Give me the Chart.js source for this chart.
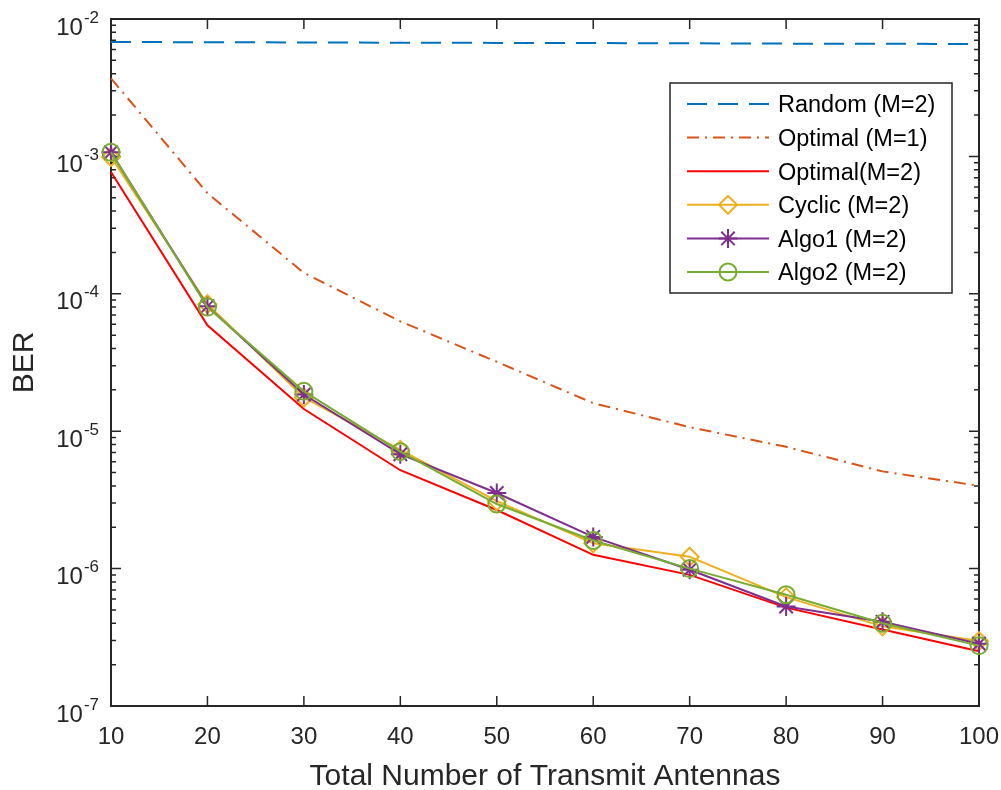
<!DOCTYPE html>
<html><head><meta charset="utf-8">
<script src="https://cdn.jsdelivr.net/npm/chart.js@4.4.0/dist/chart.umd.min.js"></script>
<style>html,body{margin:0;padding:0;background:#fff;}canvas{display:block}</style>
</head><body>
<canvas id="c" width="1001" height="790"></canvas>
<script>
// ---- data ----
const antennas = [10, 20, 30, 40, 50, 60, 70, 80, 90, 100];
const randomM2   = [6.8e-3, 6.78e-3, 6.75e-3, 6.72e-3, 6.7e-3, 6.68e-3, 6.65e-3, 6.62e-3, 6.6e-3, 6.58e-3];
const optimalM1  = [3.7e-3, 5.4e-4, 1.42e-4, 6.3e-5, 3.2e-5, 1.6e-5, 1.07e-5, 7.7e-6, 5.1e-6, 4.0e-6];
const optimalM2  = [7.7e-4, 5.9e-5, 1.45e-5, 5.2e-6, 2.67e-6, 1.26e-6, 9.0e-7, 5.2e-7, 3.6e-7, 2.5e-7];
const cyclicM2   = [9.9e-4, 8.4e-5, 1.76e-5, 7.3e-6, 3.1e-6, 1.53e-6, 1.22e-6, 6.2e-7, 3.8e-7, 2.97e-7];
const algo1M2    = [1.07e-3, 8.1e-5, 1.85e-5, 6.8e-6, 3.55e-6, 1.7e-6, 9.8e-7, 5.3e-7, 4.1e-7, 2.84e-7];
const algo2M2    = [1.07e-3, 8.0e-5, 1.95e-5, 7.1e-6, 2.95e-6, 1.6e-6, 1.0e-6, 6.45e-7, 4.0e-7, 2.75e-7];
const seriesNames = ['Random (M=2)', 'Optimal (M=1)', 'Optimal(M=2)', 'Cyclic (M=2)', 'Algo1 (M=2)', 'Algo2 (M=2)'];
const xTickValues = [10, 20, 30, 40, 50, 60, 70, 80, 90, 100];
const yTickExponents = [-2, -3, -4, -5, -6, -7];
const xTitle = 'Total Number of Transmit Antennas';
const yTitle = 'BER';

// ---- styles ----
const FONT = '"Liberation Sans", Arial, sans-serif';
const AX = '#262626';
const styles = [
  {color: '#0072BD', dash: [20, 11], marker: null},
  {color: '#D95319', dash: [12, 6, 2, 6], marker: null},
  {color: '#FF0000', dash: [], marker: null},
  {color: '#EDB120', dash: [], marker: 'rectRot', r: 9},
  {color: '#7E2F8E', dash: [], marker: 'star', r: 9.5},
  {color: '#77AC30', dash: [], marker: 'circle', r: 8.5}
];
const seriesData = [randomM2, optimalM1, optimalM2, cyclicM2, algo1M2, algo2M2];

const datasets = seriesData.map((d, i) => ({
  label: seriesNames[i],
  data: antennas.map((x, k) => ({x: x, y: d[k]})),
  borderColor: styles[i].color,
  borderWidth: 2,
  borderDash: styles[i].dash,
  pointStyle: styles[i].marker || 'circle',
  pointRadius: styles[i].marker ? styles[i].r : 0,
  pointBorderColor: styles[i].color,
  pointBackgroundColor: 'rgba(0,0,0,0)',
  pointBorderWidth: 2,
  tension: 0,
  fill: false,
  clip: false,
  order: 6 - i
}));

function drawMarker(ctx, type, x, y, r) {
  ctx.beginPath();
  if (type === 'rectRot') {
    ctx.moveTo(x - r, y); ctx.lineTo(x, y - r); ctx.lineTo(x + r, y); ctx.lineTo(x, y + r); ctx.closePath();
  } else if (type === 'circle') {
    ctx.arc(x, y, r, 0, Math.PI * 2);
  } else if (type === 'star') {
    const d = r * Math.SQRT1_2;
    ctx.moveTo(x - r, y); ctx.lineTo(x + r, y);
    ctx.moveTo(x, y - r); ctx.lineTo(x, y + r);
    ctx.moveTo(x - d, y - d); ctx.lineTo(x + d, y + d);
    ctx.moveTo(x - d, y + d); ctx.lineTo(x + d, y - d);
  }
  ctx.stroke();
}

const axesPlugin = {
  id: 'matlabAxes',
  beforeDatasetsDraw(chart) {
    const ctx = chart.ctx, a = chart.chartArea;
    const xs = chart.scales.x, ys = chart.scales.y;
    ctx.save();
    ctx.fillStyle = '#fff';
    ctx.fillRect(a.left, a.top, a.right - a.left, a.bottom - a.top);
    ctx.strokeStyle = AX;
    ctx.lineWidth = 1.5;
    ctx.setLineDash([]);
    ctx.beginPath();
    xTickValues.forEach(v => {
      const px = xs.getPixelForValue(v);
      ctx.moveTo(px, a.bottom); ctx.lineTo(px, a.bottom - 10);
      ctx.moveTo(px, a.top); ctx.lineTo(px, a.top + 10);
    });
    yTickExponents.forEach(e => {
      const py = ys.getPixelForValue(Math.pow(10, e));
      ctx.moveTo(a.left, py); ctx.lineTo(a.left + 10, py);
      ctx.moveTo(a.right, py); ctx.lineTo(a.right - 10, py);
    });
    for (let e = -7; e < -2; e++) {
      for (let m = 2; m <= 9; m++) {
        const py = ys.getPixelForValue(m * Math.pow(10, e));
        ctx.moveTo(a.left, py); ctx.lineTo(a.left + 5, py);
        ctx.moveTo(a.right, py); ctx.lineTo(a.right - 5, py);
      }
    }
    ctx.stroke();
    ctx.lineWidth = 2;
    ctx.strokeRect(a.left, a.top, a.right - a.left, a.bottom - a.top);
    ctx.restore();
  },
  afterDraw(chart) {
    const ctx = chart.ctx, a = chart.chartArea;
    const xs = chart.scales.x, ys = chart.scales.y;
    ctx.save();
    ctx.fillStyle = AX;
    // x tick labels
    ctx.font = '24px ' + FONT;
    ctx.textAlign = 'center';
    ctx.textBaseline = 'alphabetic';
    xTickValues.forEach(v => {
      ctx.fillText(String(v), xs.getPixelForValue(v), a.bottom + 38);
    });
    // y tick labels
    yTickExponents.forEach(e => {
      const py = ys.getPixelForValue(Math.pow(10, e));
      const expText = String(e);
      ctx.font = '17px ' + FONT;
      const we = ctx.measureText(expText).width;
      ctx.textAlign = 'left';
      const expX = a.left - 12 - we;
      ctx.fillText(expText, expX, py + 3.5);
      ctx.font = '24px ' + FONT;
      ctx.textAlign = 'right';
      ctx.fillText('10', expX - 1, py + 15.5);
    });
    // axis titles
    ctx.font = '30px ' + FONT;
    ctx.textAlign = 'center';
    ctx.fillText(xTitle, (a.left + a.right) / 2, 785);
    ctx.save();
    ctx.translate(33, (a.top + a.bottom) / 2);
    ctx.rotate(-Math.PI / 2);
    ctx.fillText(yTitle, 0, 0);
    ctx.restore();
    // legend
    const L = 670, T = 83, R = 952, B = 293;
    ctx.fillStyle = '#fff';
    ctx.fillRect(L, T, R - L, B - T);
    ctx.strokeStyle = AX;
    ctx.lineWidth = 1.5;
    ctx.setLineDash([]);
    ctx.strokeRect(L, T, R - L, B - T);
    ctx.font = '23.5px ' + FONT;
    ctx.textAlign = 'left';
    ctx.textBaseline = 'middle';
    seriesNames.forEach((name, i) => {
      const y = 104 + i * 33.6;
      const s = styles[i];
      ctx.strokeStyle = s.color;
      ctx.lineWidth = 2;
      ctx.setLineDash(s.dash);
      ctx.beginPath();
      ctx.moveTo(687, y); ctx.lineTo(769, y);
      ctx.stroke();
      ctx.setLineDash([]);
      if (s.marker) drawMarker(ctx, s.marker, 728, y, s.r);
      ctx.fillStyle = '#000';
      ctx.fillText(name, 778, y + 2);
    });
    ctx.restore();
  }
};

new Chart(document.getElementById('c'), {
  type: 'line',
  data: {datasets: datasets},
  options: {
    responsive: false,
    animation: false,
    devicePixelRatio: 1,
    layout: {padding: {left: 111, right: 22, top: 19, bottom: 84}},
    plugins: {legend: {display: false}, tooltip: {enabled: false}},
    scales: {
      x: {type: 'linear', min: 10, max: 100, display: false},
      y: {type: 'logarithmic', min: 1e-7, max: 1e-2, display: false}
    }
  },
  plugins: [axesPlugin]
});
</script>
</body></html>
